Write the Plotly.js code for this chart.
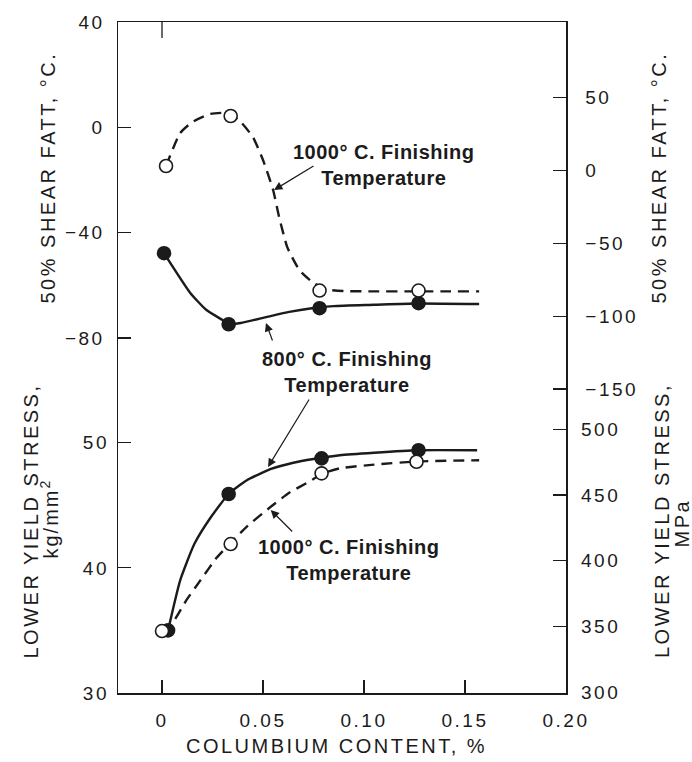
<!DOCTYPE html>
<html>
<head>
<meta charset="utf-8">
<script src="https://cdn.plot.ly/plotly-3.0.1.min.js"></script>
<style>
  html, body { margin: 0; padding: 0; background: #fff; }
  .xtick text, .ytick text, .y2tick text, .y3tick text, .y4tick text { letter-spacing: 2.5px; }
</style>
</head>
<body>
<div id="chart" style="width:692px;height:762px;"></div>
<script>
// ---- Data ----
// 50% shear FATT (°C), 1000°C finishing temperature (open circles, dashed)
const fatt1000X = [0.002, 0.034, 0.078, 0.127];
const fatt1000Y = [-14.7, 4.3, -62.0, -62.0];
const fatt1000CurveX = [0.002, 0.009, 0.015, 0.024, 0.033, 0.039, 0.045, 0.050, 0.055, 0.058, 0.062, 0.068, 0.075, 0.082, 0.090, 0.105, 0.121, 0.138, 0.157];
const fatt1000CurveY = [-14.7, -2.2, 2.0, 5.1, 5.4, 2.0, -3.7, -12.4, -23.8, -34.1, -45.5, -54.2, -59.1, -61.6, -62.2, -62.3, -62.3, -62.3, -62.3];

// 50% shear FATT (°C), 800°C finishing temperature (filled circles, solid)
const fatt800X = [0.001, 0.033, 0.078, 0.127];
const fatt800Y = [-47.8, -74.8, -68.7, -66.8];
const fatt800CurveX = [0.001, 0.014, 0.022, 0.030, 0.033, 0.039, 0.052, 0.063, 0.075, 0.085, 0.105, 0.126, 0.157];
const fatt800CurveY = [-47.8, -62.9, -69.4, -73.2, -74.7, -74.3, -72.0, -70.1, -68.6, -67.9, -67.4, -66.9, -67.1];

// Lower yield stress (kg/mm²), 800°C finishing temperature (filled, solid)
const ys800X = [0.003, 0.033, 0.079, 0.127];
const ys800Y = [35.0, 45.9, 48.75, 49.4];
const ys800CurveX = [0.003, 0.009, 0.016, 0.024, 0.033, 0.042, 0.054, 0.065, 0.075, 0.088, 0.105, 0.127, 0.156];
const ys800CurveY = [35.0, 39.0, 41.9, 44.0, 45.9, 47.0, 47.9, 48.4, 48.7, 49.0, 49.2, 49.4, 49.4];

// Lower yield stress (kg/mm²), 1000°C finishing temperature (open, dashed)
const ys1000X = [0.000, 0.034, 0.079, 0.126];
const ys1000Y = [34.95, 41.9, 47.55, 48.48];
const ys1000CurveX = [0.000, 0.006, 0.012, 0.019, 0.027, 0.034, 0.042, 0.054, 0.063, 0.073, 0.079, 0.088, 0.105, 0.126, 0.157];
const ys1000CurveY = [34.95, 35.8, 37.4, 39.0, 40.8, 42.0, 43.3, 44.9, 46.0, 46.9, 47.5, 47.95, 48.25, 48.5, 48.6];

// Tick labels
const xTicks = [0, 0.05, 0.10, 0.15, 0.20];
const xTickText = ['0', '0.05', '0.10', '0.15', '0.20'];
const leftFattTicks = [40, 0, -40, -80];
const leftStressTicks = [30, 40, 50];
const rightFattTicks = [50, 0, -50, -100, -150];
const rightStressTicks = [300, 350, 400, 450, 500];

// ---- Styling ----
const INK = '#1b1b1b';
const FONT = '"Liberation Sans", Arial, Helvetica, sans-serif';
const W = 692, H = 762;
const M = {l: 118, r: 126, t: 22, b: 69};
const PW = W - M.l - M.r, PH = H - M.t - M.b;
const px = (x) => (x - M.l) / PW;          // pixel -> paper x
const py = (y) => (H - M.b - y) / PH;      // pixel -> paper y
const DASH = '11px,7px';

function curve(x, y, yaxis, dash) {
  return {x: x, y: y, yaxis: yaxis, type: 'scatter', mode: 'lines',
    line: {color: INK, width: 2.4, dash: dash, shape: 'spline', smoothing: 0.5},
    hoverinfo: 'skip', showlegend: false};
}
function pts(x, y, yaxis, filled) {
  return {x: x, y: y, yaxis: yaxis, type: 'scatter', mode: 'markers',
    marker: {size: 13, color: filled ? INK : '#ffffff', line: {color: INK, width: 1.6}},
    showlegend: false};
}
// placeholder traces so that the right-hand axes are drawn
function axisHolder(yaxis) {
  return {x: [null], y: [null], yaxis: yaxis, type: 'scatter', mode: 'markers',
    hoverinfo: 'skip', showlegend: false};
}

const data = [
  axisHolder('y3'),
  axisHolder('y4'),
  curve(fatt1000CurveX, fatt1000CurveY, 'y', DASH),
  curve(fatt800CurveX, fatt800CurveY, 'y', 'solid'),
  curve(ys800CurveX, ys800CurveY, 'y2', 'solid'),
  curve(ys1000CurveX, ys1000CurveY, 'y2', DASH),
  pts(fatt800X, fatt800Y, 'y', true),
  pts(ys800X, ys800Y, 'y2', true),
  pts(fatt1000X, fatt1000Y, 'y', false),
  pts(ys1000X, ys1000Y, 'y2', false)
];

const tickFont = {family: FONT, size: 19, color: INK};
const common = {ticks: 'inside', ticklen: 13, tickwidth: 1.3, tickcolor: INK,
  showgrid: false, zeroline: false, tickfont: tickFont, tickmode: 'array', fixedrange: true};

// x: 0 at px 162, 0.20 at px 566
const xPerPx = 0.2 / (566 - 162);
const xRange = [-(162 - M.l) * xPerPx, 0.2];

const layout = {
  width: W, height: H, autosize: false,
  margin: M,
  paper_bgcolor: '#ffffff', plot_bgcolor: '#ffffff',
  font: {family: FONT, color: INK},
  showlegend: false,
  xaxis: Object.assign({}, common, {range: xRange, tickvals: xTicks, ticktext: xTickText,
    showline: true, linecolor: INK, linewidth: 1.5, mirror: true, ticklabelstandoff: 10}),
  yaxis: Object.assign({}, common, {range: [40 - PH / 2.633, 40], tickvals: leftFattTicks,
    showline: true, linecolor: INK, linewidth: 1.5, side: 'left', ticklabelstandoff: 8}),
  yaxis2: Object.assign({}, common, {range: [30, 30 + PH / 12.515], tickvals: leftStressTicks,
    overlaying: 'y', side: 'left', showline: false, ticklabelstandoff: 8}),
  yaxis3: Object.assign({}, common, {range: [50 - (693 - 97.7) / 1.4565, 50 + (97.7 - 22) / 1.4565],
    tickvals: rightFattTicks, overlaying: 'y', side: 'right', anchor: 'x',
    showline: true, linecolor: INK, linewidth: 1.5, ticklabelstandoff: 14}),
  yaxis4: Object.assign({}, common, {range: [300 - (693 - 692) / 1.3135, 300 + (692 - 22) / 1.3135],
    tickvals: rightStressTicks, overlaying: 'y', side: 'right', anchor: 'x',
    showline: false, ticklabelstandoff: 14}),
  shapes: [
    {type: 'line', xref: 'x', yref: 'paper', x0: 0, x1: 0, y0: 1, y1: 1 - 16 / PH,
     line: {color: INK, width: 1.3}}
  ],
  annotations: []
};

const sp = (t, s) => '<span style="letter-spacing:' + s + 'px">' + t + '</span>';
const titleFont = {family: FONT, size: 20, color: INK};
const boldFont = {family: FONT, size: 20, color: INK, weight: 'bold'};

function label(x, y, text, font, angle) {
  layout.annotations.push({xref: 'paper', yref: 'paper', x: px(x), y: py(y), text: text,
    showarrow: false, font: font, textangle: angle || 0, xanchor: 'center', yanchor: 'middle'});
}
function arrow(hx, hy, ax, ay) {
  layout.annotations.push({xref: 'paper', yref: 'paper', x: px(hx), y: py(hy), text: '',
    showarrow: true, ax: ax, ay: ay, arrowhead: 2, arrowsize: 1.4, arrowwidth: 1.2, arrowcolor: INK});
}

// Axis titles
label(336.5, 746, sp('COLUMBIUM CONTENT, %', 2.5), titleFont);
label(47.5, 178, sp('50% SHEAR FATT, °C.', 2.5), titleFont, -90);
label(30.5, 521, sp('LOWER YIELD STRESS,', 2.5), titleFont, -90);
label(49, 518.5, sp('kg/mm<sup>2</sup>', 2), titleFont, -90);
label(658.5, 178, sp('50% SHEAR FATT, °C.', 2.5), titleFont, -90);
label(661.5, 520.5, sp('LOWER YIELD STRESS,', 2.5), titleFont, -90);
label(681, 523.5, sp('MPa', 2.5), titleFont, -90);

// Curve labels
label(383, 165.5, sp('1000° C. Finishing', 0.5) + '<br>' + sp('Temperature', 0.5), boldFont);
label(346.5, 372, sp('800° C. Finishing', 0.5) + '<br>' + sp('Temperature', 0.5), boldFont);
label(348, 559.5, sp('1000° C. Finishing', 0.5) + '<br>' + sp('Temperature', 0.5), boldFont);

// Arrows (head position, tail offset)
arrow(274, 190, 41, -25);
arrow(266, 323, 7, 19);
arrow(268, 467, 42, -69);
arrow(270.7, 510, 23, 23);

Plotly.newPlot('chart', data, layout, {staticPlot: true, displayModeBar: false});
</script>
</body>
</html>
